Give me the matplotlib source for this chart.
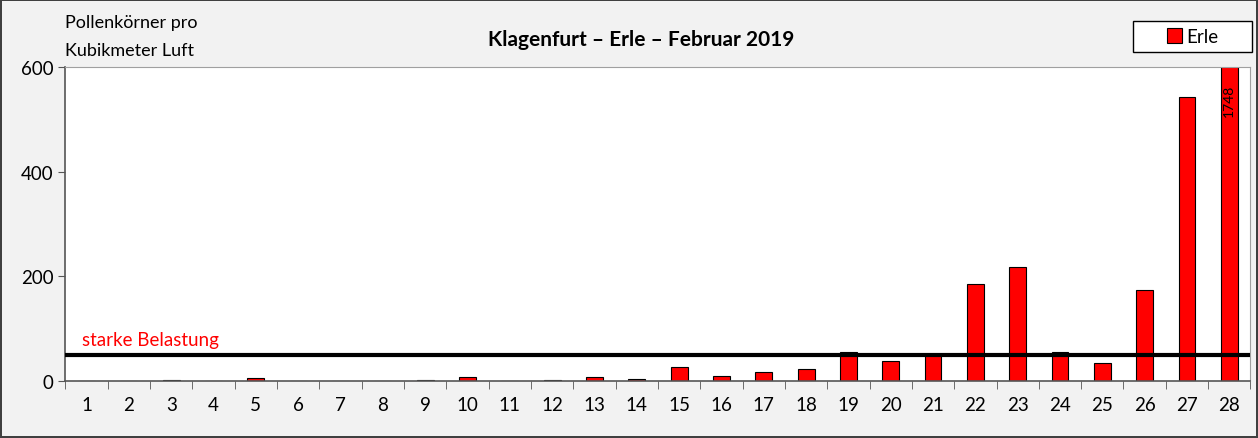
import matplotlib.pyplot as plt
from matplotlib.patches import Rectangle
import numpy as np

# data
days = list(range(1, 29))
erle = [0, 0, 2, 0, 6, 0, 0, 0, 2, 7, 0, 1, 7, 4, 26, 10, 18, 23, 55, 38,
        50, 186, 218, 55, 34, 174, 543, 1748]
threshold = 50
y_ticks = [0, 200, 400, 600]
y_max = 600

plt.rcParams['font.family'] = ['Lato', 'DejaVu Sans']

fig = plt.figure(figsize=(12.58, 4.39), dpi=100)
fig.patch.set_facecolor('#f2f2f2')
fig.patch.set_edgecolor('#404040')
fig.patch.set_linewidth(1.5)

ax = fig.add_axes([0.052, 0.130, 0.942, 0.715])
ax.set_facecolor('white')

bars = ax.bar(days, erle, width=0.4, color='#ff0000', edgecolor='black', linewidth=0.8,
              label='Erle', zorder=2)
ax.axhline(threshold, color='black', linewidth=3, zorder=3)
ax.text(0.9, threshold + 12, 'starke Belastung', color='#ff0000', fontsize=13.5,
        va='bottom', ha='left')

# label for bars cut off at the top
for d, v in zip(days, erle):
    if v > y_max:
        ax.text(d, y_max - 32, str(v), rotation=90, ha='center', va='top',
                fontsize=10, zorder=4)

ax.set_xlim(0.5, 28.5)
ax.set_ylim(0, y_max)
ax.set_yticks(y_ticks)
ax.set_xticks(days)
ax.set_xticks(np.arange(0.5, 29, 1), minor=True)
ax.tick_params(axis='x', which='major', length=0, labelsize=13.5, pad=11)
ax.tick_params(axis='x', which='minor', length=6, color='#555555')
ax.tick_params(axis='y', length=5, labelsize=13.5, color='#555555')

for side in ['top', 'right']:
    ax.spines[side].set_color('#a0a0a0')
ax.spines['left'].set_color('#555555')
ax.spines['bottom'].set_color('#555555')
ax.spines['left'].set_linewidth(1.2)
ax.spines['bottom'].set_linewidth(1.2)

fig.text(0.510, 0.908, 'Klagenfurt – Erle – Februar 2019', ha='center', va='center',
         fontsize=15, fontweight='bold')
fig.text(0.052, 0.947, 'Pollenkörner pro', ha='left', va='center', fontsize=13)
fig.text(0.052, 0.883, 'Kubikmeter Luft', ha='left', va='center', fontsize=13)

# legend box drawn as its own rectangle, like the reference
box_x, box_y, box_w, box_h = 1133 / 1258, 1 - 53 / 439, 119 / 1258, 31 / 439
fig.patches.append(Rectangle((box_x, box_y), box_w, box_h, transform=fig.transFigure,
                             facecolor='white', edgecolor='black', linewidth=1, zorder=1))
fig.legend(handles=[bars], labels=['Erle'], loc='center',
           bbox_to_anchor=(box_x + box_w / 2, box_y + box_h / 2),
           fontsize=13.5, frameon=False, handlelength=0.8, handleheight=0.8,
           handletextpad=0.2, borderpad=0)

fig.savefig('out.png', dpi=100, facecolor=fig.get_facecolor(), edgecolor=fig.get_edgecolor())
